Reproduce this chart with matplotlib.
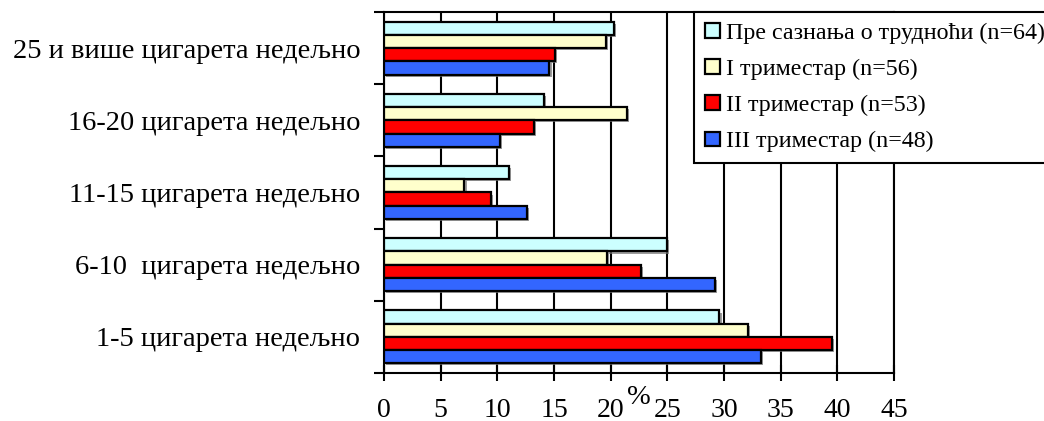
import numpy as np
import matplotlib
matplotlib.use("Agg")
import matplotlib.pyplot as plt
import matplotlib.patheffects as pe

plt.rcParams['font.family'] = ['Liberation Serif', 'DejaVu Serif']

# Категорије (одоздо нагоре)
categories = [
    "1-5 цигарета недељно",
    "6-10  цигарета недељно",
    "11-15 цигарета недељно",
    "16-20 цигарета недељно",
    "25 и више цигарета недељно",
]

# Проценти по периоду
pre_trudnoce = [29.6, 25.0, 11.0, 14.1, 20.3]
trimestar_1 = [32.1, 19.7, 7.1, 21.4, 19.6]
trimestar_2 = [39.5, 22.7, 9.4, 13.2, 15.1]
trimestar_3 = [33.3, 29.2, 12.6, 10.2, 14.6]

series_labels = [
    "Пре сазнања о трудноћи (n=64)",
    "I триместар (n=56)",
    "II триместар (n=53)",
    "III триместар (n=48)",
]
series_colors = ["#CCFFFF", "#FFFFCC", "#FF0000", "#3366FF"]
x_ticks = [0, 5, 10, 15, 20, 25, 30, 35, 40, 45]

fig = plt.figure(figsize=(10.44, 4.21), dpi=100)
ax = fig.add_axes([384 / 1044, 1 - 373 / 421, 510 / 1044, 361 / 421])

y = np.arange(len(categories)) + 0.5
h = 0.183
shadow = [pe.SimplePatchShadow(offset=(1.5, -1.5), shadow_rgbFace="0.45", alpha=0.7),
          pe.Normal()]

all_series = [pre_trudnoce, trimestar_1, trimestar_2, trimestar_3]
for i, (vals, lab, col) in enumerate(zip(all_series, series_labels, series_colors)):
    offs = (1.5 - i) * h
    bars = ax.barh(y + offs, vals, height=h, color=col, edgecolor="black",
                   linewidth=1.6, label=lab, zorder=3)
    for b in bars:
        b.set_path_effects(shadow)

ax.set_xlim(0, 45)
ax.set_ylim(0, len(categories))

# вертикалне линије мреже
ax.set_xticks(x_ticks)
ax.xaxis.grid(True, color="black", linewidth=1.5)
ax.set_axisbelow(True)

ax.set_yticks(np.arange(len(categories) + 1))
ax.set_yticklabels([])
ax.set_yticks(y, minor=True)
ax.set_yticklabels(categories, minor=True, fontsize=20.5)
ax.tick_params(axis="y", which="major", direction="out", length=7.5, width=1.5)
ax.tick_params(axis="y", which="minor", length=0, pad=17)
ax.tick_params(axis="x", direction="inout", length=12, width=1.5, labelsize=20, pad=12)

for s in ax.spines.values():
    s.set_linewidth(1.5)

ax.set_xlabel("%", fontsize=20.5)
ax.xaxis.set_label_coords(0.5, -0.068)
ax.xaxis.label.set_va("center")

leg = fig.legend(loc="upper left", bbox_to_anchor=(694 / 1044, 1 - 12 / 421),
                 fontsize=17.3, handlelength=0.65, handleheight=0.55,
                 handletextpad=0.22, labelspacing=0.62, borderpad=0.45,
                 borderaxespad=0, fancybox=False, shadow=False, framealpha=1)
leg.get_frame().set_edgecolor("black")
leg.get_frame().set_linewidth(1.5)
for hnd in leg.legend_handles:
    hnd.set_path_effects([])

fig.savefig("out.png", dpi=100)
